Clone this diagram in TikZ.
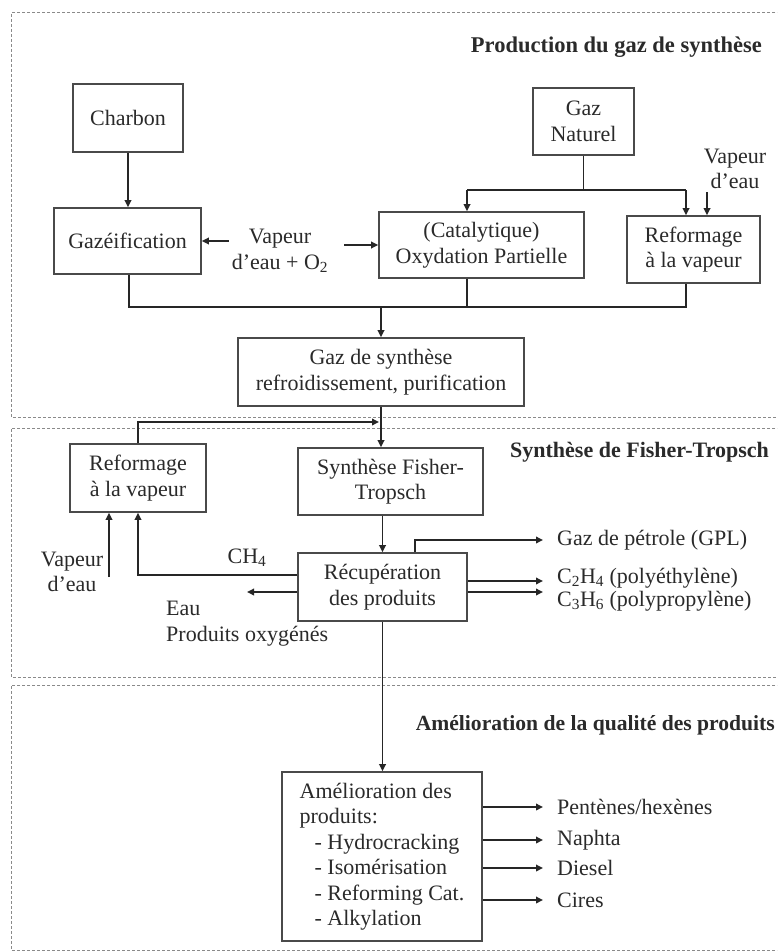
\documentclass[tikz,border=0pt]{standalone}
\usepackage{fontspec}
\setmainfont{Liberation Serif}
\usetikzlibrary{arrows.meta}
\definecolor{boxc}{HTML}{4A4A4A}
\definecolor{txt}{HTML}{2A2A2A}
\definecolor{framec}{HTML}{8A8A8A}
\begin{document}
\begin{tikzpicture}[x=1pt,y=-1pt,
  font=\fontsize{22}{25.5}\selectfont,
  box/.style={draw=boxc,line width=1.6pt,align=center,inner sep=2pt,text=txt},
  ln/.style={line width=1.8pt,draw=black!85},
  arr/.style={ln,-{Triangle[length=7pt,width=6.5pt]}},
  frame/.style={draw=framec,dash pattern=on 3pt off 2pt,line width=1pt},
  lbl/.style={text=txt,inner sep=0pt},
  ttl/.style={font=\fontsize{22.5}{25}\selectfont\bfseries,text=txt,inner sep=0pt}]
\useasboundingbox (0,0) rectangle (777,952);
\fill[white] (0,0) rectangle (777,952);
\clip (0,0) rectangle (777,952);

% section frames
\draw[frame] (790,13) -| (11,417) -- (790,417);
\draw[frame] (790,428) -| (11,677) -- (790,677);
\draw[frame] (790,685) -| (11,950) -- (790,950);

% titles
\node[ttl,anchor=east] (t1) at (762,47) {Production du gaz de synthèse};
\node[ttl,anchor=west,font=\fontsize{22}{25}\selectfont\bfseries] (t2) at (510,452) {Synthèse de Fisher-Tropsch};
\node[ttl,anchor=east,font=\fontsize{21.6}{25}\selectfont\bfseries] (t3) at (775,725) {Amélioration de la qualité des produits};

% section 1 boxes
\node[box,minimum width=110pt,minimum height=68pt] (charbon) at (128,118) {Charbon};
\node[box,minimum width=101pt,minimum height=67pt] (gaznat) at (583.5,121.5) {Gaz\\Naturel};
\node[box,minimum width=147pt,minimum height=66pt] (gazeif) at (127.5,241) {Gazéification};
\node[box,minimum width=205pt,minimum height=66pt] (catal) at (481.5,245) {(Catalytique)\\Oxydation Partielle};
\node[box,minimum width=133pt,minimum height=67pt] (reform1) at (693.5,249.5) {Reformage\\à la vapeur};
\node[box,minimum width=286pt,minimum height=68pt] (gazsyn) at (381,372) {Gaz de synthèse\\refroidissement, purification};

% section 2 boxes
\node[box,minimum width=136pt,minimum height=68pt] (reform2) at (138,478) {Reformage\\à la vapeur};
\node[box,minimum width=185pt,minimum height=67pt] (ftsyn) at (390.5,481.5) {Synthèse Fisher-\\Tropsch};
\node[box,minimum width=169pt,minimum height=68pt] (recup) at (382.5,587) {Récupération\\des produits};

% section 3 box
\node[box,align=left,minimum width=200pt,minimum height=169pt] (amelio) at (382,856.5)
  {Amélioration des\\produits:\\\hspace*{15pt}- Hydrocracking\\\hspace*{15pt}- Isomérisation\\\hspace*{15pt}- Reforming Cat.\\\hspace*{15pt}- Alkylation};

% labels
\node[lbl,align=center] (vap1) at (735,169) {Vapeur\\d'eau};
\node[lbl,align=center] (vo2) at (280,251) {Vapeur\\d'eau + O\textsubscript{2}};
\node[lbl,align=center] (vap2) at (72,572) {Vapeur\\d'eau};
\node[lbl] (ch4) at (247,558) {CH\textsubscript{4}};
\node[lbl,align=left,anchor=north west] (eau) at (166,601) {Eau\\Produits oxygénés};
\node[lbl,anchor=west] (gpl) at (557,540) {Gaz de pétrole (GPL)};
\node[lbl,anchor=west] (c2) at (557,578) {C\textsubscript{2}H\textsubscript{4} (polyéthylène)};
\node[lbl,anchor=west] (c3) at (557,601) {C\textsubscript{3}H\textsubscript{6} (polypropylène)};
\node[lbl,anchor=west] (p1) at (557,807) {Pentènes/hexènes};
\node[lbl,anchor=west] (p2) at (557,840) {Naphta};
\node[lbl,anchor=west] (p3) at (557,868) {Diesel};
\node[lbl,anchor=west] (p4) at (557,900) {Cires};

% helper coordinates
\coordinate (b1) at (467,190);
\coordinate (b2) at (686,190);
\coordinate (cy) at (0,307);
\coordinate (c1) at (129,307);
\coordinate (c2) at (467,307);
\coordinate (c3) at (686,307);
\coordinate (fb) at (0,422);
\coordinate (vw) at (707,192);
\coordinate (vs) at (109,577);
\coordinate (gp) at (415,540);
\coordinate (tip) at (543,0);

% section 1 connectors
\draw[arr] (charbon.south) -- (charbon.south |- gazeif.north);
\draw[ln] (gaznat.south) -- (gaznat.south |- b1);
\draw[ln] (b1) -- (b2);
\draw[arr] (b1) -- (b1 |- catal.north);
\draw[arr] (b2) -- (b2 |- reform1.north);
\draw[arr] (vw) -- (vw |- reform1.north);
\draw[arr] ([xshift=-3pt]vo2.west |- gazeif.east) -- (gazeif.east);
\draw[arr] ([xshift=16pt]vo2.east |- catal.west) -- (catal.west);
\draw[ln] (c1 |- gazeif.south) -- (c1) -- (c3) -- (c3 |- reform1.south);
\draw[ln] (c2 |- catal.south) -- (c2);
\draw[arr] (gazsyn.north |- cy) -- (gazsyn.north);

% section 2 connectors
\draw[arr] (gazsyn.south) -- (gazsyn.south |- ftsyn.north);
\draw[arr,shorten >=2pt] (reform2.north) |- (gazsyn.south |- fb);
\draw[arr] (recup.north |- ftsyn.south) -- (recup.north);
\draw[arr] (recup.west |- 0,575) -| (reform2.south);
\draw[arr] (vs) -- (vs |- reform2.south);
\draw[arr] (recup.west |- 0,592) -- (247,592);
\draw[arr] (gp |- recup.north) -- (gp) -- (tip |- gp);
\draw[arr] (recup.east |- 0,581) -- (tip |- 0,581);
\draw[arr] (recup.east |- 0,592) -- (tip |- 0,592);

% section 3 connectors
\draw[arr] (recup.south) -- (recup.south |- amelio.north);
\draw[arr] (amelio.east |- p1) -- (tip |- p1);
\draw[arr] (amelio.east |- p2) -- (tip |- p2);
\draw[arr] (amelio.east |- p3) -- (tip |- p3);
\draw[arr] (amelio.east |- p4) -- (tip |- p4);
\end{tikzpicture}
\end{document}
